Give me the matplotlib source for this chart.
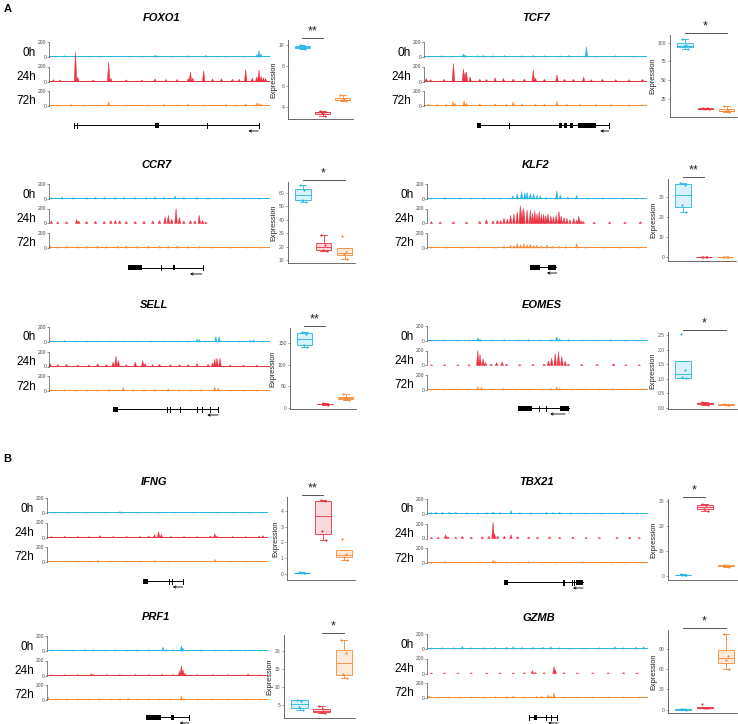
import matplotlib
matplotlib.use("Agg")
import matplotlib.pyplot as plt
from matplotlib.patches import Rectangle
import matplotlib.transforms as mtrans

plt.rcParams['font.family'] = ['Liberation Sans', 'DejaVu Sans']

W, H = 738, 724
TIMES = ['0h', '24h', '72h']
COLORS = ['#27B5E4', '#EC3141', '#F68B36']

# coverage peaks per track: (position in % of window, height[, half width])
foxo1_0h = [(3, 15), (7, 18), (12, 12), (18, 12), (23, 15), (28, 14), (36, 12), (42, 12), (48, 25), (49, 18),
            (56, 12), (63, 18), (71, 22), (76, 12), (80, 14), (88, 15), (94, 30), (95, 90), (96, 40)]
foxo1_24h = [(2, 25), (5, 22), (12, 395), (13, 60), (20, 22), (27, 260), (28, 45), (35, 22), (42, 20), (48, 35),
             (53, 28), (58, 28), (63, 40), (64, 130), (65, 45), (70, 145), (74, 35), (78, 38), (83, 30), (86, 30),
             (89, 160), (92, 45), (94, 60), (95, 155), (96, 70), (97, 50), (98, 40)]
foxo1_72h = [(4, 15), (10, 22), (16, 15), (22, 15), (27, 56), (35, 18), (45, 18), (52, 22), (58, 15), (63, 26),
             (70, 18), (80, 22), (85, 15), (89, 30), (94, 40), (95, 35), (96, 25)]

tcf7_0h = [(2, 15), (8, 18), (12, 15), (17.7, 40), (18.5, 25), (24, 18), (26.6, 22), (31, 18), (36, 20), (44, 18),
           (49, 20), (54, 18), (61, 18), (65, 22), (72.8, 140), (77, 15), (86, 18), (94, 12)]
tcf7_24h = [(1, 40), (3, 25), (9, 30), (13.2, 245), (17.7, 170), (18.4, 120), (19, 130), (20.7, 60), (25, 30),
            (28, 28), (31.9, 50), (35.6, 40), (40, 35), (45, 35), (49, 155), (50, 45), (54, 30), (59.6, 90),
            (63, 30), (67, 30), (71.6, 60), (75, 25), (80, 30), (86, 25), (92, 25), (98, 30)]
tcf7_72h = [(2, 25), (6, 22), (10, 25), (13, 60), (14, 35), (18, 70), (19, 40), (25, 30), (32, 30), (37, 25),
            (40, 55), (44, 28), (50, 25), (54, 25), (59.6, 60), (64, 25), (70, 25), (77, 22), (84, 20), (92, 18)]

ccr7_0h = [(1, 20), (6, 30), (11, 22), (17, 20), (21, 25), (25, 22), (30, 20), (34, 25), (39, 20), (44, 22),
           (48, 28), (52, 25), (57, 40), (61, 22), (67, 25), (72, 15), (79, 15), (88, 15), (95, 12)]
ccr7_24h = [(1, 35), (4, 22), (8, 25), (12.5, 55), (13.5, 35), (17, 28), (21, 30), (25, 28), (28, 40), (30, 42),
            (32, 38), (35, 30), (39, 28), (43, 30), (47, 35), (50, 40), (52.5, 90), (54, 110), (55.5, 60),
            (57.5, 200), (59, 80), (61, 35), (64, 40), (66, 35), (68, 110), (69.5, 40), (71, 20)]
ccr7_72h = [(0.5, 30), (4, 20), (8, 30), (13, 22), (17, 25), (22, 28), (26, 25), (31, 28), (35, 30), (40, 25),
            (45, 28), (50, 30), (54, 28), (58, 30), (63, 25), (68, 22), (74, 15), (82, 15), (90, 15), (96, 12)]

klf2_0h = [(2, 15), (8, 20), (15, 18), (20, 15), (26, 18), (33, 15), (39, 45), (41, 70), (43, 100), (44.5, 85),
           (45.5, 90), (47, 75), (48.5, 70), (50, 50), (51.5, 40), (54, 25), (59, 110), (60.6, 50), (64, 25),
           (68, 50), (73, 15), (80, 18), (89, 15), (95, 12)]
klf2_24h = [(2, 25), (6, 22), (12, 25), (18, 22), (24, 30), (27, 50), (30, 35), (32, 45), (33.5, 40), (35, 70),
            (36.5, 60), (38, 110), (39.5, 130), (41, 160), (42.4, 240), (43.2, 180), (44, 200), (45.5, 180),
            (47, 180), (48, 140), (49, 170), (50, 130), (51, 160), (52, 120), (53, 120), (54, 110), (55, 130),
            (56.3, 100), (57.5, 90), (58.7, 110), (60, 160), (61, 100), (62.3, 80), (63.6, 70), (65, 50),
            (66.7, 70), (68, 45), (69, 100), (70, 40), (71, 30), (76, 20), (83, 22), (90, 20), (97, 25)]
klf2_72h = [(2, 15), (9, 18), (16, 15), (24, 18), (31, 15), (35, 25), (38, 40), (39.5, 35), (41, 60), (42.5, 45),
            (44, 60), (45.5, 45), (47, 50), (48.5, 35), (50, 40), (52, 30), (54.5, 40), (57, 25), (60, 25),
            (63, 25), (68, 60), (72, 15), (80, 15), (88, 15), (96, 12)]

sell_0h = [(2, 15), (7, 20), (12, 15), (17, 18), (22, 15), (28, 15), (34, 15), (40, 15), (46, 18), (52, 15),
           (58, 15), (63, 18), (67, 40), (68, 35), (71, 15), (75.5, 75), (77, 70), (81, 15), (86, 15), (91, 25),
           (92.5, 30), (97, 15)]
sell_24h = [(0.5, 40), (4, 25), (8, 30), (13, 22), (18, 22), (22, 40), (26, 25), (29, 60), (30.3, 140), (31.4, 80),
            (35, 25), (39, 60), (42.4, 80), (43.5, 40), (47, 25), (50, 30), (55, 25), (59, 25), (63, 25), (67, 40),
            (72, 30), (74, 50), (75, 100), (76, 110), (77.4, 110), (82, 20), (88, 20), (94, 18)]
sell_72h = [(1, 18), (7, 20), (12, 15), (17, 18), (22, 18), (27, 20), (33.6, 45), (38, 18), (43, 18), (48, 20),
            (54, 30), (59, 18), (64, 18), (69, 20), (75, 55), (76.6, 40), (82, 15), (88, 15), (94, 15)]

eomes_0h = [(2, 12), (8, 15), (14, 15), (19, 15), (23, 45), (24, 25), (29, 15), (35, 18), (41, 15), (46, 20),
            (51, 15), (56, 20), (58.7, 55), (60, 30), (64, 20), (70, 15), (76, 15), (83, 18), (90, 15), (96, 12)]
eomes_24h = [(2, 10), (8, 12), (14, 10), (19, 12), (23, 200), (24, 150), (25.4, 90), (26.5, 40), (29, 20),
             (31.5, 40), (34, 50), (36, 20), (42, 15), (48, 15), (53, 20), (55, 60), (56.4, 100), (58, 160),
             (59.5, 190), (61, 120), (62.5, 60), (64, 20), (70, 15), (77, 15), (84.4, 25), (90, 12), (96, 10)]
eomes_72h = [(2, 12), (8, 15), (14, 12), (19, 15), (23, 45), (24.6, 35), (29, 15), (34.5, 20), (40, 12), (46, 15),
             (52, 15), (56, 25), (58.7, 40), (60, 25), (66, 15), (72, 12), (78, 15), (84, 20), (90, 12), (96, 10)]

ifng_0h = [(3, 8), (10, 10), (18, 8), (26, 10), (33, 20), (34, 15), (41, 8), (50, 10), (58, 8), (66, 8),
           (76.6, 15), (84, 8), (92, 8), (98, 10)]
ifng_24h = [(2, 12), (8, 15), (14, 12), (19, 12), (24, 25), (30, 15), (36, 15), (42, 15), (46, 20), (48.7, 40),
            (50.5, 80), (51.7, 40), (56, 15), (62, 12), (68, 12), (74, 20), (75.9, 50), (77, 20), (84, 12),
            (90, 12), (96, 20), (97.7, 25)]
ifng_72h = [(3, 10), (8.7, 15), (14, 10), (19, 12), (23, 20), (29, 10), (36, 12), (42, 12), (48.7, 20), (55, 10),
            (62, 10), (69, 10), (76, 35), (83, 10), (90, 10), (97, 10)]

tbx21_0h = [(2, 18), (4, 25), (7, 25), (10, 25), (13, 28), (18, 20), (23, 18), (27, 20), (30, 30), (33, 22),
            (38, 45), (42, 20), (47, 18), (54, 25), (57, 20), (60, 25), (65, 18), (72, 15), (79, 15), (88.7, 20),
            (95, 15)]
tbx21_24h = [(2, 15), (5, 18), (8.4, 50), (9.5, 25), (13, 20), (16, 30), (20, 20), (25, 25), (28, 30),
             (29.9, 220), (30.6, 60), (32, 30), (35, 30), (38, 50), (41, 25), (46, 20), (50, 18), (55.5, 25),
             (60, 18), (66, 20), (72, 15), (78, 15), (86, 18), (91.7, 20), (96, 15)]
tbx21_72h = [(2, 12), (8, 20), (13, 15), (18, 12), (24, 15), (30, 40), (31, 20), (36, 15), (41, 12), (46, 20),
             (52, 12), (58, 12), (64, 12), (70.6, 20), (77, 12), (84, 12), (90, 12), (96, 12)]

prf1_0h = [(2, 15), (7, 12), (12, 15), (17, 20), (21, 18), (26, 15), (31, 18), (36, 15), (41, 18), (46, 18),
           (52.5, 50), (54, 20), (57, 18), (60.8, 70), (61.5, 40), (64, 15), (70, 18), (76, 15), (83, 15),
           (90, 15), (96, 12)]
prf1_24h = [(2, 10), (8, 10), (14, 12), (20, 25), (21, 15), (27, 12), (33, 12), (40, 12), (46, 12), (52, 15),
            (57, 12), (60, 60), (60.8, 130), (61.5, 80), (62.5, 30), (68, 12), (75, 12), (82, 12), (91, 20),
            (96, 10)]
prf1_72h = [(0.5, 40), (4, 15), (9, 15), (14, 18), (19, 15), (23.8, 20), (29, 15), (33, 18), (36.7, 25),
            (41, 15), (46, 18), (51, 15), (56, 15), (60.8, 55), (62, 20), (68, 15), (75, 18), (82, 15),
            (90, 15), (96, 12)]

gzmb_0h = [(2, 15), (7, 18), (12, 18), (16, 35), (20, 18), (26, 18), (31, 20), (36, 25), (39, 30), (43, 22),
           (48, 22), (52.5, 25), (56, 30), (60, 18), (65, 15), (71, 15), (78, 18), (85, 30), (89, 18),
           (94.7, 25), (98, 30)]
gzmb_24h = [(2, 8), (8, 10), (14, 8), (20, 10), (27, 8), (33, 10), (39, 10), (44, 12), (47.7, 40), (49, 15),
            (53, 12), (57.5, 90), (58, 50), (62, 12), (68, 10), (75, 10), (82, 10), (89, 12), (95, 10)]
gzmb_72h = [(1, 30), (5, 15), (10, 18), (15, 15), (20, 15), (26, 15), (31, 18), (36, 20), (39, 25), (44, 18),
            (49.5, 20), (52, 25), (54.8, 40), (56, 25), (57.5, 75), (62, 15), (68, 15), (75, 15), (82, 15),
            (89, 15), (96, 15)]

# gene models (% of window)
foxo1_model = dict(span=(11.3, 95), exons=[(48, 50)], ticks=[11.3, 12.8, 71.3, 95], arrow=(94.7, 90.2))
tcf7_model = dict(span=(23.7, 82.8), exons=[(23.7, 25.6), (60.6, 62.1), (62.9, 64), (65.3, 67), (68.9, 77.1)],
                  ticks=[37.9, 82.8], arrow=(82.8, 79))
ccr7_model = dict(span=(35.9, 69.5), exons=[(35.9, 41.9), (56, 57)], ticks=[50.7, 69.5], arrow=(69.2, 63.8))
klf2_model = dict(span=(46.7, 58.8), exons=[(46.7, 51.5), (54.8, 58.8)], ticks=[], arrow=(59, 54.5))
sell_model = dict(span=(29.1, 76.6), exons=[(29.1, 31.4)], ticks=[53.2, 54.8, 59.3, 66.8, 69.1, 72.9, 76.6],
                  arrow=(76.6, 71.6))
eomes_model = dict(span=(41.3, 64.4), exons=[(41.3, 47.7), (60.2, 64.4)], ticks=[50.8, 53.7], arrow=(62.5, 55.7))
ifng_model = dict(span=(43.3, 61.4), exons=[(43.3, 45.6)], ticks=[55.1, 56.5, 61.4], arrow=(61.4, 56.9))
tbx21_model = dict(span=(35, 70.6), exons=[(35, 36.6), (67.4, 70.6)], ticks=[61.5, 62.2, 65.6, 66.3],
                   arrow=(70.6, 66))
prf1_model = dict(span=(45, 64.3), exons=[(45, 51.4), (56, 57.5)], ticks=[64.3], arrow=(64.3, 60))
gzmb_model = dict(span=(46.2, 59), exons=[(48.3, 49.9)], ticks=[46.2, 53.7, 56.3, 59], arrow=(59.3, 54.8))

# expression values, groups 0h / 24h / 72h
foxo1_expr = [[10.05, 9.85, 9.75, 9.6], [3.55, 3.5, 3.4, 3.05], [5.1, 4.75, 4.65, 4.55]]
tcf7_expr = [[105, 97, 95, 92], [13, 12.5, 12, 11.5], [15, 10, 9, 8]]
ccr7_expr = [[66, 62, 55, 53], [29, 21, 18, 17], [28, 16, 15, 11]]
klf2_expr = [[37.2, 36, 26, 22.5], [0.2, 0.1, 0, 0.05], [0.1, 0, 0.05, 0.1]]
sell_expr = [[175, 172, 146, 142], [10, 9, 8, 7], [32, 23, 21, 18]]
eomes_expr = [[2.53, 1.3, 1.05, 1.02], [0.22, 0.18, 0.15, 0.12], [0.14, 0.12, 0.11, 0.1]]
ifng_expr = [[0.08, 0.05, 0.03, 0.02], [4.7, 4.65, 2.7, 2.15], [2.2, 1.25, 1.1, 0.85]]
tbx21_expr = [[0.7, 0.5, 0.4, 0.3], [29, 28.3, 27, 26], [4.6, 4.2, 3.9, 3.6]]
prf1_expr = [[6.5, 6.2, 4.5, 3.5], [4.7, 3.8, 3.1, 2.9], [23, 19.5, 13.6, 12.5]]
gzmb_expr = [[0.5, 0.3, 0.2, 0.1], [8, 3, 2.5, 2], [112, 80, 73, 60]]

genes = [
    dict(name='FOXO1', tracks=[foxo1_0h, foxo1_24h, foxo1_72h], model=foxo1_model, expr=foxo1_expr,
         ylim=(2.8, 10.5), yticks=[4, 6, 8, 10], sig=(1, 2, '**'),
         tx=(49, 270), z0=57, ty=(162, 18), gy=125, box=(288, 40, 353, 119)),
    dict(name='TCF7', tracks=[tcf7_0h, tcf7_24h, tcf7_72h], model=tcf7_model, expr=tcf7_expr,
         ylim=(1, 110), yticks=[25, 50, 75, 100], sig=(1, 3, '*'),
         tx=(424, 647), z0=57, ty=(536, 18), gy=125, box=(670, 35, 737, 117)),
    dict(name='CCR7', tracks=[ccr7_0h, ccr7_24h, ccr7_72h], model=ccr7_model, expr=ccr7_expr,
         ylim=(8, 68), yticks=[10, 20, 30, 40, 50, 60], sig=(1, 3, '*'),
         tx=(49, 270), z0=199, ty=(157, 165), gy=268, box=(288, 182, 355, 263)),
    dict(name='KLF2', tracks=[klf2_0h, klf2_24h, klf2_72h], model=klf2_model, expr=klf2_expr,
         ylim=(-2, 39), yticks=[0, 10, 20, 30], sig=(1, 2, '**'),
         tx=(427, 647), z0=199, ty=(536, 165), gy=267, box=(668, 179, 736, 261)),
    dict(name='SELL', tracks=[sell_0h, sell_24h, sell_72h], model=sell_model, expr=sell_expr,
         ylim=(-3, 185), yticks=[0, 50, 100, 150], sig=(1, 2, '**'),
         tx=(49, 270), z0=342, ty=(154, 305), gy=409, box=(290, 328, 356, 409)),
    dict(name='EOMES', tracks=[eomes_0h, eomes_24h, eomes_72h], model=eomes_model, expr=eomes_expr,
         ylim=(-0.03, 2.6), yticks=[0, 0.5, 1.0, 1.5, 2.0, 2.5], sig=(1, 3, '*'),
         tx=(427, 648), z0=341, ty=(542, 305), gy=408, box=(668, 332, 737, 409)),
    dict(name='IFNG', tracks=[ifng_0h, ifng_24h, ifng_72h], model=ifng_model, expr=ifng_expr,
         ylim=(-0.4, 4.9), yticks=[0, 1, 2, 3, 4], sig=(1, 2, '**'),
         tx=(47, 268), z0=513, ty=(154, 482), gy=581, box=(287, 497, 355, 580)),
    dict(name='TBX21', tracks=[tbx21_0h, tbx21_24h, tbx21_72h], model=tbx21_model, expr=tbx21_expr,
         ylim=(-1.6, 30.8), yticks=[0, 10, 20, 30], sig=(1, 2, '*'),
         tx=(427, 648), z0=514, ty=(537, 482), gy=582, box=(668, 499, 737, 580)),
    dict(name='PRF1', tracks=[prf1_0h, prf1_24h, prf1_72h], model=prf1_model, expr=prf1_expr,
         ylim=(1.4, 24.4), yticks=[5, 10, 15, 20], sig=(2, 3, '*'),
         tx=(47, 268), z0=651, ty=(156, 617), gy=717, box=(284, 635, 355, 718)),
    dict(name='GZMB', tracks=[gzmb_0h, gzmb_24h, gzmb_72h], model=gzmb_model, expr=gzmb_expr,
         ylim=(-5, 118), yticks=[0, 30, 60, 90], sig=(1, 3, '*'),
         tx=(427, 648), z0=649, ty=(539, 618), gy=717, box=(668, 630, 737, 713)),
]


def rect(x0, y0, x1, y1):
    # pixel box (top-left origin) -> figure fraction
    return [x0 / W, 1 - y1 / H, (x1 - x0) / W, (y1 - y0) / H]


def draw_track(ax, peaks, color):
    ax.fill_between([0, 100], 0, 10, color=color, lw=0)
    for p in peaks:
        x, h = p[0], p[1]
        w = p[2] if len(p) > 2 else 0.6
        ax.fill([x - w, x, x + w], [0, h, 0], color=color, lw=0.3, clip_on=False)
    ax.set_xlim(0, 100)
    ax.set_ylim(0, 200)
    for s in ['top', 'right', 'bottom']:
        ax.spines[s].set_visible(False)
    ax.spines['left'].set_linewidth(0.5)
    ax.spines['left'].set_color('#555555')
    ax.set_xticks([])
    ax.set_yticks([0, 200])
    ax.tick_params(axis='y', labelsize=3.6, length=1.5, width=0.4, pad=0.5, colors='#444444')
    ax.patch.set_alpha(0)


def draw_model(ax, m):
    ax.plot(m['span'], [0, 0], color='black', lw=0.7)
    for a, b in m['exons']:
        ax.add_patch(Rectangle((a, -2.5), b - a, 5, color='black', lw=0))
    for t in m['ticks']:
        ax.plot([t, t], [-2.5, 2.5], color='black', lw=0.7)
    a0, a1 = m['arrow']
    ax.annotate('', xy=(a1, 6), xytext=(a0, 6),
                arrowprops=dict(arrowstyle='->', lw=0.6, color='black', mutation_scale=4,
                                shrinkA=0, shrinkB=0))
    ax.set_xlim(0, 100)
    ax.set_ylim(10, -4)
    ax.axis('off')


def draw_box(ax, g):
    offs = [-0.12, 0.08, -0.03, 0.14]
    for i, (vals, c) in enumerate(zip(g['expr'], COLORS)):
        ax.boxplot([vals], positions=[i + 1], widths=0.75, patch_artist=True, showfliers=False,
                   boxprops=dict(facecolor=matplotlib.colors.to_rgba(c, 0.18), edgecolor=c, lw=0.6),
                   medianprops=dict(color=c, lw=0.6),
                   whiskerprops=dict(color=c, lw=0.6),
                   capprops=dict(color=c, lw=0.6), capwidths=0.3)
        ax.scatter([i + 1 + o for o in offs], vals, s=2.5, color=c, lw=0, zorder=3)
    ax.set_xlim(0.3, 3.5)
    ax.set_ylim(*g['ylim'])
    ax.set_yticks(g['yticks'])
    ax.set_xticks([])
    for s in ['top', 'right']:
        ax.spines[s].set_visible(False)
    for s in ['left', 'bottom']:
        ax.spines[s].set_linewidth(0.6)
        ax.spines[s].set_color('#555555')
    ax.tick_params(axis='y', labelsize=3.6, length=1.5, width=0.4, pad=1, colors='#555555')
    ax.set_ylabel('Expression', fontsize=5.3, labelpad=1, color='#222222')
    a, b, star = g['sig']
    tr = mtrans.blended_transform_factory(ax.transData, ax.transAxes)
    ax.plot([a, b], [1.03, 1.03], color='#555555', lw=0.7, transform=tr, clip_on=False)
    ax.text((a + b) / 2, 1.035, star, transform=tr, ha='center', va='bottom', fontsize=9, color='#222222')


fig = plt.figure(figsize=(W / 100, H / 100), dpi=100)
ov = fig.add_axes([0, 0, 1, 1])
ov.set_xlim(0, W)
ov.set_ylim(H, 0)
ov.axis('off')
ov.text(4, 9, 'A', fontsize=8, fontweight='bold', va='center')
ov.text(3, 459, 'B', fontsize=8, fontweight='bold', va='center')

for g in genes:
    x0, x1 = g['tx']
    ov.text(g['ty'][0], g['ty'][1], g['name'], fontsize=8, fontweight='bold', fontstyle='italic',
            ha='center', va='center')
    for k, (peaks, c, lab) in enumerate(zip(g['tracks'], COLORS, TIMES)):
        zy = g['z0'] + 24.5 * k
        ax = fig.add_axes(rect(x0, zy - 15, x1, zy))
        draw_track(ax, peaks, c)
        ov.text(x0 - 13, zy - 4.5, lab, fontsize=8.5, ha='right', va='center')
    gax = fig.add_axes(rect(x0, g['gy'] - 4, x1, g['gy'] + 10))
    draw_model(gax, g['model'])
    bx = fig.add_axes(rect(*g['box']))
    draw_box(bx, g)

fig.savefig('out.png', dpi=100)
